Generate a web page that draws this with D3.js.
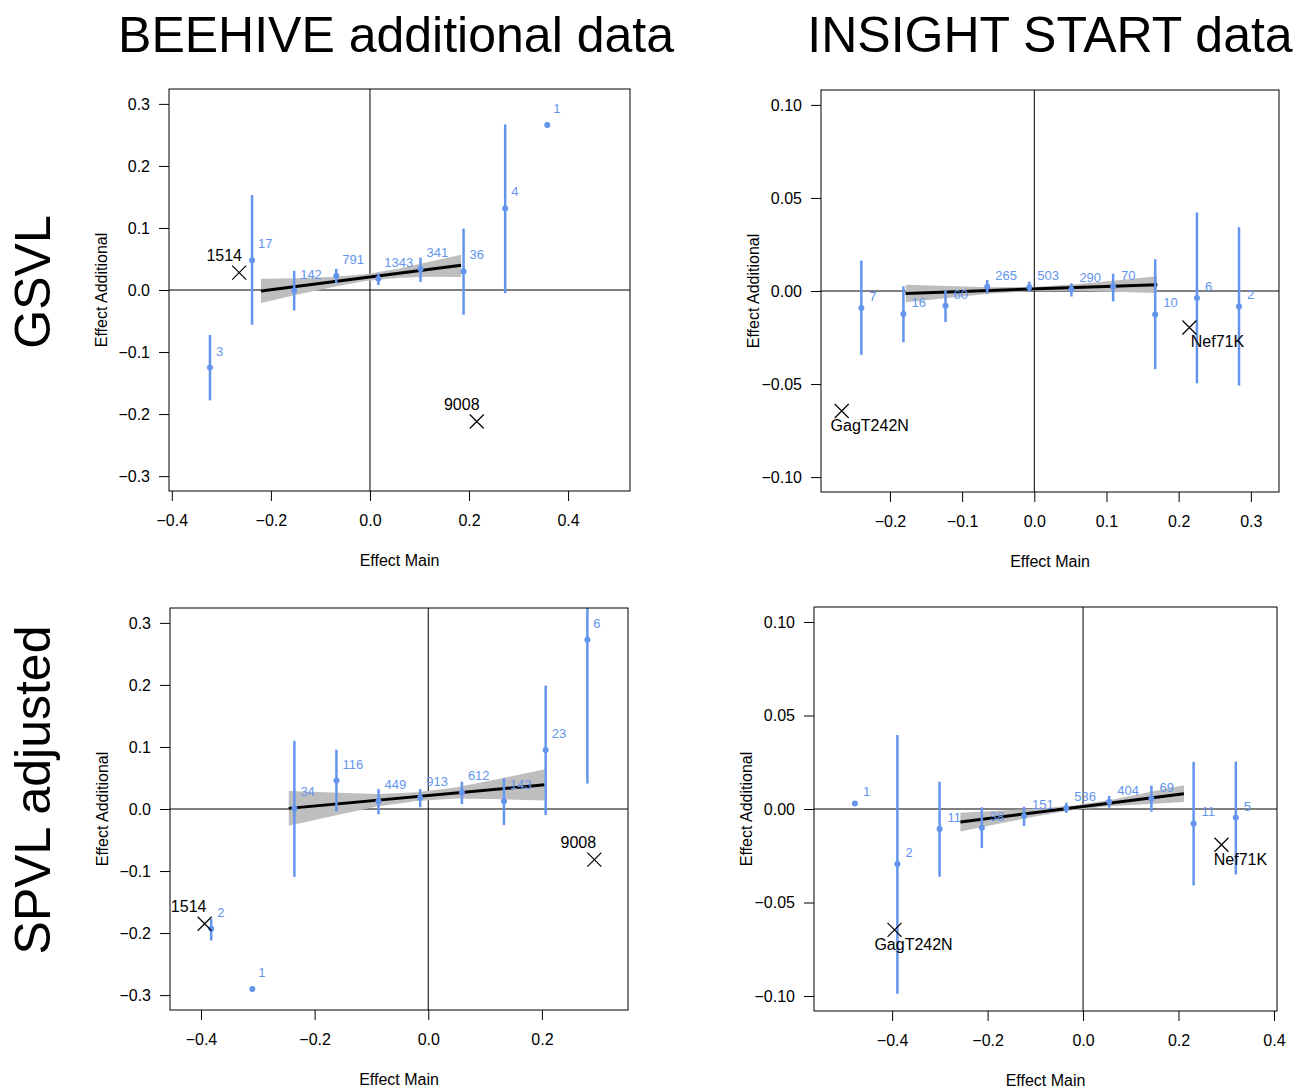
<!DOCTYPE html>
<html>
<head>
<meta charset="utf-8">
<script src="https://cdn.jsdelivr.net/npm/d3@7"></script>
<style>
  body { margin: 0; background: #fff; }
  svg text { font-family: "Liberation Sans", Arial, Helvetica, sans-serif; }
</style>
</head>
<body>
<div id="vis"></div>
<script>
// ---- BEEHIVE, GSVL ----
var beeGsvlMain = [-0.323, -0.238, -0.153, -0.068, 0.017, 0.102, 0.189, 0.273, 0.358];
var beeGsvlAdd  = [-0.125, 0.048, -0.001, 0.023, 0.018, 0.034, 0.030, 0.1315, 0.266];
var beeGsvlLo   = [-0.178, -0.056, -0.033, 0.011, 0.008, 0.013, -0.040, -0.005, null];
var beeGsvlHi   = [-0.0725, 0.153, 0.031, 0.034, 0.027, 0.052, 0.099, 0.267, null];
var beeGsvlN    = ["3", "17", "142", "791", "1343", "341", "36", "4", "1"];
var beeGsvlFitX = [-0.22, 0.184];
var beeGsvlFitY = [-0.0016, 0.040];
var beeGsvlBandX  = [-0.22, -0.15, -0.08, -0.01, 0.06, 0.12, 0.184];
var beeGsvlBandLo = [-0.021, -0.008, 0.004, 0.0145, 0.0197, 0.0214, 0.021];
var beeGsvlBandHi = [0.018, 0.019, 0.021, 0.0255, 0.0347, 0.0454, 0.057];
var beeGsvlMarkName = ["1514", "9008"];
var beeGsvlMarkX = [-0.264, 0.2156];
var beeGsvlMarkY = [0.028, -0.212];

// ---- INSIGHT START, GSVL ----
var insGsvlMain = [-0.2396, -0.1813, -0.123, -0.0652, -0.0069, 0.0514, 0.1092, 0.1675, 0.2253, 0.2836];
var insGsvlAdd  = [-0.0092, -0.0124, -0.0079, 0.0023, 0.002, 0.0009, 0.0023, -0.0126, -0.0038, -0.0083];
var insGsvlLo   = [-0.0343, -0.0275, -0.0167, -0.0014, -0.0005, -0.003, -0.0056, -0.042, -0.0496, -0.0508];
var insGsvlHi   = [0.0163, 0.0025, 0.0005, 0.0059, 0.005, 0.0041, 0.0093, 0.0171, 0.0422, 0.0343];
var insGsvlN    = ["7", "16", "60", "265", "503", "290", "70", "10", "6", "2"];
var insGsvlFitX = [-0.1784, 0.1705];
var insGsvlFitY = [-0.0013, 0.0034];
var insGsvlBandX  = [-0.178, -0.12, -0.06, 0.0, 0.06, 0.12, 0.17];
var insGsvlBandLo = [-0.0060, -0.0037, -0.0014, 0.0000, 0.0001, -0.0005, -0.0011];
var insGsvlBandHi = [0.0034, 0.0027, 0.0020, 0.0022, 0.0037, 0.0059, 0.0079];
var insGsvlMarkName = ["GagT242N", "Nef71K"];
var insGsvlMarkX = [-0.2668, 0.2149];
var insGsvlMarkY = [-0.0645, -0.0196];

// ---- BEEHIVE, SPVL adjusted ----
var beeSpvlMain = [-0.382, -0.3096, -0.2356, -0.1616, -0.0876, -0.0142, 0.0592, 0.1332, 0.2066, 0.280];
var beeSpvlAdd  = [-0.193, -0.290, 0.001, 0.0459, 0.0124, 0.0183, 0.027, 0.0124, 0.095, 0.273];
var beeSpvlLo   = [-0.212, null, -0.1095, -0.004, -0.0086, 0.003, 0.008, -0.026, -0.0097, 0.041];
var beeSpvlHi   = [-0.177, null, 0.110, 0.0955, 0.032, 0.032, 0.044, 0.0497, 0.199, 0.40];
var beeSpvlN    = ["2", "1", "34", "116", "449", "913", "612", "143", "23", "6"];
var beeSpvlFitX = [-0.2455, 0.2047];
var beeSpvlFitY = [0.001, 0.0389];
var beeSpvlBandX  = [-0.2455, -0.17, -0.09, -0.02, 0.05, 0.13, 0.2047];
var beeSpvlBandLo = [-0.027, -0.0116, 0.0041, 0.013, 0.0169, 0.0156, 0.0139];
var beeSpvlBandHi = [0.029, 0.0264, 0.0241, 0.027, 0.0349, 0.0496, 0.0639];
var beeSpvlMarkName = ["1514", "9008"];
var beeSpvlMarkX = [-0.3935, 0.2923];
var beeSpvlMarkY = [-0.185, -0.0815];

// ---- INSIGHT START, SPVL adjusted ----
var insSpvlMain = [-0.478, -0.389, -0.3006, -0.2121, -0.1237, -0.0352, 0.0547, 0.1432, 0.2316, 0.320];
var insSpvlAdd  = [0.003, -0.0294, -0.0107, -0.010, -0.0037, 0.0005, 0.0039, 0.0055, -0.0077, -0.0046];
var insSpvlLo   = [null, -0.0988, -0.0362, -0.0209, -0.0091, -0.0021, 0.0007, -0.0014, -0.0409, -0.035];
var insSpvlHi   = [null, 0.0396, 0.0146, 0.0009, 0.0012, 0.0034, 0.007, 0.0125, 0.0252, 0.0253];
var insSpvlN    = ["1", "2", "11", "38", "151", "536", "404", "69", "11", "5"];
var insSpvlFitX = [-0.257, 0.2114];
var insSpvlFitY = [-0.0070, 0.0082];
var insSpvlBandX  = [-0.257, -0.18, -0.09, -0.02, 0.06, 0.14, 0.2114];
var insSpvlBandLo = [-0.0120, -0.0080, -0.0035, -0.0005, 0.0016, 0.0027, 0.0037];
var insSpvlBandHi = [-0.0020, -0.0010, 0.0003, 0.0019, 0.0050, 0.0091, 0.0127];
var insSpvlMarkName = ["GagT242N", "Nef71K"];
var insSpvlMarkX = [-0.395, 0.290];
var insSpvlMarkY = [-0.0646, -0.0191];

// ticks
var beeYTicks = [-0.3, -0.2, -0.1, 0.0, 0.1, 0.2, 0.3];
var insYTicks = [-0.10, -0.05, 0.00, 0.05, 0.10];
var beeGsvlXTicks = [-0.4, -0.2, 0.0, 0.2, 0.4];
var insGsvlXTicks = [-0.2, -0.1, 0.0, 0.1, 0.2, 0.3];
var beeSpvlXTicks = [-0.4, -0.2, 0.0, 0.2];
var insSpvlXTicks = [-0.4, -0.2, 0.0, 0.2, 0.4];

var colTitles = ["BEEHIVE additional data", "INSIGHT START data"];
var rowTitles = ["GSVL", "SPVL adjusted"];

var blue = "#6495ED";

var svg = d3.select("#vis").append("svg")
    .attr("width", 1301)
    .attr("height", 1088)
    .style("background", "#fff");

function zip(xs, ys, lo, hi, n) {
    return xs.map(function(d, i) {
        return {x: d, y: ys[i], lo: lo ? lo[i] : null, hi: hi ? hi[i] : null, n: n ? n[i] : null};
    });
}

function drawPanel(p) {
    var x = d3.scaleLinear().domain(p.xlim).range([p.left, p.right]);
    var y = d3.scaleLinear().domain(p.ylim).range([p.bottom, p.top]);
    var g = svg.append("g");

    g.append("clipPath").attr("id", "clip" + p.id)
        .append("rect")
        .attr("x", p.left).attr("y", p.top)
        .attr("width", p.right - p.left).attr("height", p.bottom - p.top);

    // axes
    var xa = g.append("g")
        .attr("transform", "translate(0," + p.bottom + ")")
        .call(d3.axisBottom(x).tickValues(p.xticks).tickSize(10).tickPadding(14).tickFormat(d3.format(".1f")));
    xa.select(".domain").remove();
    var ya = g.append("g")
        .attr("transform", "translate(" + p.left + ",0)")
        .call(d3.axisLeft(y).tickValues(p.yticks).tickSize(10).tickPadding(9).tickFormat(d3.format(p.yfmt)));
    ya.select(".domain").remove();
    g.selectAll(".tick text").attr("font-size", 16).attr("font-family", null).attr("fill", "#000");

    g.append("text")
        .attr("x", (p.left + p.right) / 2)
        .attr("y", p.bottom + 75)
        .attr("text-anchor", "middle")
        .attr("font-size", 16)
        .text("Effect Main");

    g.append("text")
        .attr("transform", "translate(" + (p.left - 62) + "," + ((p.top + p.bottom) / 2) + ") rotate(-90)")
        .attr("text-anchor", "middle")
        .attr("font-size", 16)
        .text("Effect Additional");

    var plot = g.append("g").attr("clip-path", "url(#clip" + p.id + ")");

    // zero lines
    plot.append("line")
        .attr("x1", p.left).attr("x2", p.right)
        .attr("y1", y(0)).attr("y2", y(0))
        .attr("stroke", "#000").attr("stroke-width", 1);
    plot.append("line")
        .attr("x1", x(0)).attr("x2", x(0))
        .attr("y1", p.top).attr("y2", p.bottom)
        .attr("stroke", "#000").attr("stroke-width", 1);

    // confidence band + fit
    var band = zip(p.bandX, p.bandX, p.bandLo, p.bandHi);
    plot.append("path")
        .datum(band)
        .attr("fill", "#bebebe")
        .attr("d", d3.area().x(function(d) { return x(d.x); })
            .y0(function(d) { return y(d.lo); })
            .y1(function(d) { return y(d.hi); }));

    plot.append("path")
        .datum(zip(p.fitX, p.fitY))
        .attr("fill", "none")
        .attr("stroke", "#000")
        .attr("stroke-width", 3)
        .attr("d", d3.line().x(function(d) { return x(d.x); }).y(function(d) { return y(d.y); }));

    // error bars, points, counts
    var pts = zip(p.main, p.add, p.lo, p.hi, p.n);
    plot.selectAll(".ci")
        .data(pts.filter(function(d) { return d.lo != null; }))
        .enter().append("line")
        .attr("x1", function(d) { return x(d.x); })
        .attr("x2", function(d) { return x(d.x); })
        .attr("y1", function(d) { return y(d.lo); })
        .attr("y2", function(d) { return y(d.hi); })
        .attr("stroke", blue)
        .attr("stroke-width", 2.5);

    plot.selectAll(".pt")
        .data(pts)
        .enter().append("circle")
        .attr("cx", function(d) { return x(d.x); })
        .attr("cy", function(d) { return y(d.y); })
        .attr("r", 3)
        .attr("fill", blue);

    plot.selectAll(".cnt")
        .data(pts)
        .enter().append("text")
        .attr("x", function(d) { return x(d.x) + p.nDx; })
        .attr("y", function(d) { return y(d.y) + p.nDy; })
        .attr("font-size", 13)
        .attr("fill", blue)
        .text(function(d) { return d.n; });

    // highlighted mutations
    var marks = zip(p.markX, p.markY, null, null, p.markName);
    var mk = plot.selectAll(".mk").data(marks).enter().append("g")
        .attr("transform", function(d) { return "translate(" + x(d.x) + "," + y(d.y) + ")"; });
    mk.append("path")
        .attr("d", "M-7,-7L7,7M-7,7L7,-7")
        .attr("stroke", "#000")
        .attr("stroke-width", 1.2);
    mk.append("text")
        .attr("x", p.mDx)
        .attr("y", p.mDy)
        .attr("text-anchor", "middle")
        .attr("font-size", 16)
        .text(function(d) { return d.n; });

    // box
    g.append("rect")
        .attr("x", p.left).attr("y", p.top)
        .attr("width", p.right - p.left).attr("height", p.bottom - p.top)
        .attr("fill", "none")
        .attr("stroke", "#000")
        .attr("stroke-width", 1);
}

drawPanel({id: 1, left: 169, right: 630, top: 89, bottom: 491,
    xlim: [-0.4057, 0.525], ylim: [-0.324, 0.324], xticks: beeGsvlXTicks, yticks: beeYTicks, yfmt: ".1f",
    main: beeGsvlMain, add: beeGsvlAdd, lo: beeGsvlLo, hi: beeGsvlHi, n: beeGsvlN,
    fitX: beeGsvlFitX, fitY: beeGsvlFitY, bandX: beeGsvlBandX, bandLo: beeGsvlBandLo, bandHi: beeGsvlBandHi,
    markX: beeGsvlMarkX, markY: beeGsvlMarkY, markName: beeGsvlMarkName,
    nDx: 6, nDy: -12, mDx: -15, mDy: -12});

drawPanel({id: 2, left: 821, right: 1279, top: 90, bottom: 492,
    xlim: [-0.2955, 0.339], ylim: [-0.108, 0.108], xticks: insGsvlXTicks, yticks: insYTicks, yfmt: ".2f",
    main: insGsvlMain, add: insGsvlAdd, lo: insGsvlLo, hi: insGsvlHi, n: insGsvlN,
    fitX: insGsvlFitX, fitY: insGsvlFitY, bandX: insGsvlBandX, bandLo: insGsvlBandLo, bandHi: insGsvlBandHi,
    markX: insGsvlMarkX, markY: insGsvlMarkY, markName: insGsvlMarkName,
    nDx: 8, nDy: -7, mDx: 28, mDy: 20});

drawPanel({id: 3, left: 170, right: 628, top: 608, bottom: 1010,
    xlim: [-0.4545, 0.3515], ylim: [-0.324, 0.324], xticks: beeSpvlXTicks, yticks: beeYTicks, yfmt: ".1f",
    main: beeSpvlMain, add: beeSpvlAdd, lo: beeSpvlLo, hi: beeSpvlHi, n: beeSpvlN,
    fitX: beeSpvlFitX, fitY: beeSpvlFitY, bandX: beeSpvlBandX, bandLo: beeSpvlBandLo, bandHi: beeSpvlBandHi,
    markX: beeSpvlMarkX, markY: beeSpvlMarkY, markName: beeSpvlMarkName,
    nDx: 6, nDy: -12, mDx: -16, mDy: -12});

drawPanel({id: 4, left: 814, right: 1277, top: 607, bottom: 1011,
    xlim: [-0.5637, 0.4063], ylim: [-0.108, 0.108], xticks: insSpvlXTicks, yticks: insYTicks, yfmt: ".2f",
    main: insSpvlMain, add: insSpvlAdd, lo: insSpvlLo, hi: insSpvlHi, n: insSpvlN,
    fitX: insSpvlFitX, fitY: insSpvlFitY, bandX: insSpvlBandX, bandLo: insSpvlBandLo, bandHi: insSpvlBandHi,
    markX: insSpvlMarkX, markY: insSpvlMarkY, markName: insSpvlMarkName,
    nDx: 8, nDy: -7, mDx: 19, mDy: 20});

// column and row titles
svg.selectAll(".coltitle")
    .data(colTitles)
    .enter().append("text")
    .attr("x", function(d, i) { return [396, 1050][i]; })
    .attr("y", 52)
    .attr("text-anchor", "middle")
    .attr("font-size", 50)
    .text(function(d) { return d; });

svg.selectAll(".rowtitle")
    .data(rowTitles)
    .enter().append("text")
    .attr("transform", function(d, i) { return "translate(50," + [282, 790][i] + ") rotate(-90)"; })
    .attr("text-anchor", "middle")
    .attr("font-size", 50)
    .text(function(d) { return d; });
</script>
</body>
</html>
